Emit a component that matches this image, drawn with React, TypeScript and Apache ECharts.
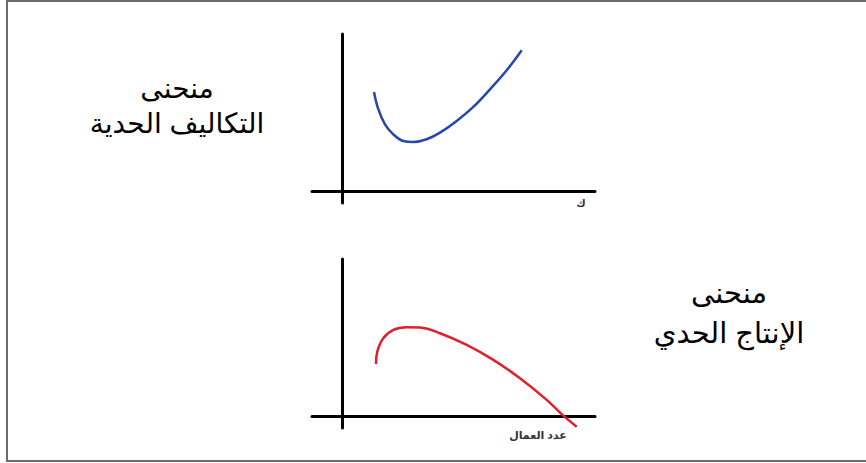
import React, { useEffect, useRef } from "react";
import * as echarts from "echarts";

// Marginal cost curve (quantity, cost) – U shaped
const costX = [3.2, 3.63, 4.3, 5.13, 6.13, 7.13, 8.47, 9.8, 11.47, 13.13, 14.8, 16.47, 17.97];
const costY = [8.2, 6.77, 5.52, 4.69, 4.14, 4.06, 4.28, 4.83, 5.8, 6.96, 8.42, 10.0, 11.66];

// Marginal product curve (workers, output) – rises then falls below zero
const prodX = [3.4, 3.53, 4.13, 5.13, 6.47, 7.8, 9.8, 12.47, 15.13, 17.8, 20.47, 22.13, 23.47];
const prodY = [4.31, 5.33, 6.44, 7.13, 7.35, 7.32, 6.85, 5.88, 4.64, 3.12, 1.33, 0.02, -0.89];

const costTitle = ["منحنى", "التكاليف الحدية"];
const prodTitle = ["منحنى", "الإنتاج الحدي"];
const costAxisName = "ك";
const prodAxisName = "عدد العمال";

const FONT = "'Liberation Sans', 'DejaVu Sans', sans-serif";

const pairs = (xs: number[], ys: number[]) => xs.map((x, i) => [x, ys[i]]);

const axisStyle = { show: true, onZero: true, lineStyle: { color: "#000", width: 3 } };

export default function App() {
  const ref = useRef<HTMLDivElement>(null);

  useEffect(() => {
    document.body.style.margin = "0";
    const chart = echarts.init(ref.current!, undefined, { renderer: "svg" });

    const xAxisBase = {
      type: "value" as const,
      min: -3,
      max: 25.3,
      axisLine: axisStyle,
      axisTick: { show: false },
      axisLabel: { show: false },
      splitLine: { show: false },
    };
    const yAxisBase = {
      type: "value" as const,
      min: -1,
      max: 13,
      axisLine: axisStyle,
      axisTick: { show: false },
      axisLabel: { show: false },
      splitLine: { show: false },
    };

    chart.setOption({
      animation: false,
      backgroundColor: "#fff",
      grid: [
        { left: 312, width: 283, top: 34, height: 169 },
        { left: 312, width: 283, top: 259, height: 169 },
      ],
      xAxis: [
        { ...xAxisBase, gridIndex: 0 },
        { ...xAxisBase, gridIndex: 1 },
      ],
      yAxis: [
        { ...yAxisBase, gridIndex: 0 },
        { ...yAxisBase, gridIndex: 1 },
      ],
      series: [
        {
          type: "line",
          xAxisIndex: 0,
          yAxisIndex: 0,
          data: pairs(costX, costY),
          smooth: 0.4,
          showSymbol: false,
          clip: false,
          lineStyle: { color: "#2747a8", width: 2.5 },
        },
        {
          type: "line",
          xAxisIndex: 1,
          yAxisIndex: 1,
          data: pairs(prodX, prodY),
          smooth: 0.4,
          showSymbol: false,
          clip: false,
          lineStyle: { color: "#e0202a", width: 2.5 },
        },
      ],
      graphic: [
        {
          type: "rect",
          shape: { x: 7, y: 1, width: 866, height: 460 },
          style: { fill: "none", stroke: "#6b6b6b", lineWidth: 2 },
          silent: true,
        },
        {
          type: "text",
          x: 177,
          y: 106,
          style: {
            text: costTitle.join("\n"),
            fill: "#000",
            font: `28px ${FONT}`,
            lineHeight: 35,
            align: "center",
            verticalAlign: "middle",
          },
        },
        {
          type: "text",
          x: 729,
          y: 313,
          style: {
            text: prodTitle.join("\n"),
            fill: "#000",
            font: `29px ${FONT}`,
            lineHeight: 40,
            align: "center",
            verticalAlign: "middle",
          },
        },
        {
          type: "text",
          x: 581,
          y: 203,
          style: {
            text: costAxisName,
            fill: "#333",
            font: `bold 10px ${FONT}`,
            align: "center",
            verticalAlign: "middle",
          },
        },
        {
          type: "text",
          x: 538,
          y: 435,
          style: {
            text: prodAxisName,
            fill: "#333",
            font: `bold 11px ${FONT}`,
            align: "center",
            verticalAlign: "middle",
          },
        },
      ],
    });

    return () => chart.dispose();
  }, []);

  return <div ref={ref} style={{ width: 866, height: 463 }} />;
}
